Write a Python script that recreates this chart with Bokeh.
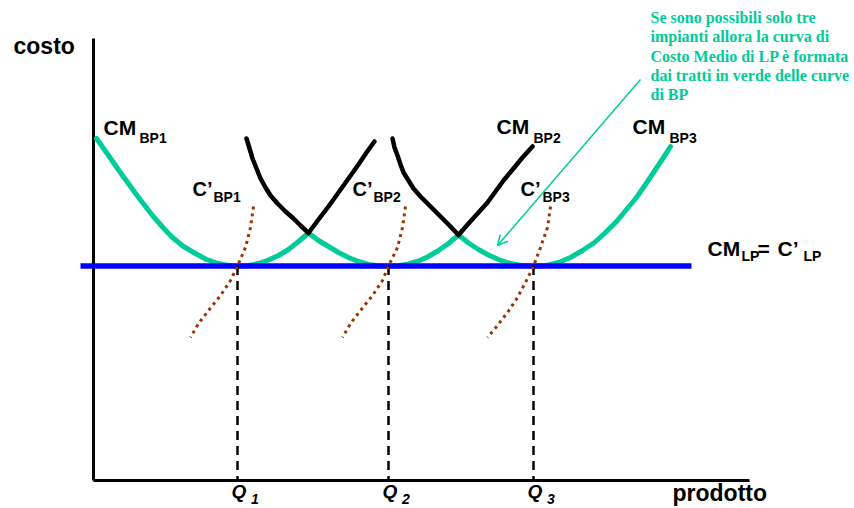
from bokeh.plotting import figure
from bokeh.models import Range1d, Label, Arrow, OpenHead
from bokeh.embed import file_html
from bokeh.resources import INLINE

# ---------------- data (x = prodotto, y = costo) ----------------
Q_VALUES = [14.4, 29.5, 44.0]
Q_SUBS = ["1", "2", "3"]
LP_COST = 21.45
LP_X = [-1.3, 59.8]
X_AXIS_END = 65.6
Y_AXIS_TOP = 44.2

# CM BP1 (green part, then black part)
bp1_green_x = [0.3, 1.5, 2.9, 4.4, 5.9, 6.9, 7.9, 9.0, 10.2, 11.3, 12.5, 13.5, 14.4,
               15.5, 16.5, 17.5, 18.5, 19.5, 20.5, 21.5]
bp1_green_y = [34.2, 32.5, 30.5, 28.45, 26.5, 25.35, 24.3, 23.4, 22.7, 22.1, 21.7, 21.5, 21.45,
               21.5, 21.7, 22.05, 22.5, 23.1, 23.9, 24.75]
bp1_black_x = [21.5, 22.5, 23.5, 24.5, 25.5, 26.5, 27.3, 28.1]
bp1_black_y = [24.75, 26.1, 27.4, 28.8, 30.2, 31.6, 32.8, 33.9]

# CM BP2 (black left, green middle, black right)
bp2_black_l_x = [15.3, 15.6, 15.9, 16.3, 16.7, 17.2, 17.7, 18.4, 19.2, 20.0, 20.7, 21.5]
bp2_black_l_y = [34.2, 33.2, 32.2, 31.2, 30.2, 29.3, 28.5, 27.7, 26.9, 26.2, 25.5, 24.75]
bp2_green_x = [21.5, 22.5, 23.5, 24.5, 25.5, 26.5, 27.5, 28.5, 29.5, 30.5, 31.5, 32.5, 33.5,
               34.5, 35.5, 36.5]
bp2_green_y = [24.75, 24.0, 23.4, 22.8, 22.3, 21.9, 21.6, 21.47, 21.45, 21.47, 21.65, 21.95, 22.4,
               23.0, 23.7, 24.55]
bp2_black_r_x = [36.5, 37.5, 38.5, 39.4, 40.2, 41.0, 42.0, 42.9, 43.9]
bp2_black_r_y = [24.55, 25.7, 26.8, 27.8, 28.9, 30.0, 31.2, 32.3, 33.4]

# CM BP3 (black left, green rest)
bp3_black_x = [29.9, 30.1, 30.4, 30.7, 31.0, 31.5, 32.0, 32.7, 33.4, 34.1, 34.8, 35.6, 36.5]
bp3_black_y = [34.2, 33.3, 32.5, 31.6, 30.8, 30.0, 29.2, 28.4, 27.7, 27.0, 26.3, 25.5, 24.55]
bp3_green_x = [36.5, 37.5, 38.5, 39.5, 40.5, 41.5, 42.7, 44.0, 45.3, 46.5, 47.7, 48.9, 50.1,
               51.2, 52.3, 53.3, 54.3, 55.2, 56.2, 57.0, 57.7]
bp3_green_y = [24.55, 23.75, 23.1, 22.55, 22.1, 21.75, 21.5, 21.45, 21.5, 21.8, 22.3, 23.0, 23.8,
               24.8, 25.9, 27.1, 28.3, 29.6, 31.1, 32.3, 33.4]

# marginal costs C'
mc1_x = [16.0, 15.7, 15.2, 14.4, 13.7, 12.7, 11.5, 10.5, 9.7]
mc1_y = [27.4, 25.3, 23.3, 21.45, 20.0, 18.5, 17.0, 15.7, 14.3]
mc2_x = [31.2, 30.9, 30.4, 29.5, 28.9, 27.9, 26.7, 25.7, 24.9]
mc2_y = [27.4, 25.3, 23.3, 21.45, 20.0, 18.5, 17.0, 15.7, 14.3]
mc3_x = [45.7, 45.4, 44.7, 44.0, 43.4, 42.4, 41.4, 40.4, 39.4]
mc3_y = [27.4, 25.3, 23.3, 21.45, 20.2, 18.3, 16.8, 15.5, 14.3]

NOTE_LINES = [
    "Se sono possibili solo tre",
    "impianti allora la curva di",
    "Costo Medio di LP è formata",
    "dai tratti in verde delle curve",
    "di BP",
]

# ---------------- styles ----------------
GREEN = "#00CC99"
BROWN = "#993300"
BLUE = "#0000FF"
SANS = "Liberation Sans"
SERIF = "Liberation Serif"

p = figure(width=854, height=508,
           x_range=Range1d(-9.3, 76.1), y_range=Range1d(-2.8, 48.0),
           output_backend="svg", toolbar_location=None,
           x_axis_location=None, y_axis_location=None,
           min_border=0, outline_line_color=None,
           background_fill_color="white", border_fill_color="white")
p.grid.visible = False

# axes
p.line([0, 0], [0, Y_AXIS_TOP], line_color="black", line_width=3)
p.line([0, X_AXIS_END], [0, 0], line_color="black", line_width=3)

# green envelope parts
for xs, ys in [(bp1_green_x, bp1_green_y), (bp2_green_x, bp2_green_y), (bp3_green_x, bp3_green_y)]:
    p.line(xs, ys, line_color=GREEN, line_width=5, line_join="round", line_cap="round")

# black parts
for xs, ys in [(bp1_black_x, bp1_black_y), (bp2_black_l_x, bp2_black_l_y),
               (bp2_black_r_x, bp2_black_r_y), (bp3_black_x, bp3_black_y)]:
    p.line(xs, ys, line_color="black", line_width=4.5, line_join="round", line_cap="round")

# long-run cost line
p.line(LP_X, [LP_COST, LP_COST], line_color=BLUE, line_width=5.5)

# dashed verticals at Q
for q in Q_VALUES:
    p.line([q, q], [LP_COST, 0], line_color="black", line_width=2.5, line_dash="9 6")

# marginal costs (dotted)
for xs, ys in [(mc1_x, mc1_y), (mc2_x, mc2_y), (mc3_x, mc3_y)]:
    p.line(xs, ys, line_color=BROWN, line_width=3, line_dash="3 4")


def lab(x, y, text, size, style="bold", font=SANS, color="black"):
    # baseline correction for the renderer (about 0.42 em upward)
    px = float(size.replace("px", ""))
    p.add_layout(Label(x=x, y=y + 0.042 * px, text=text, text_font=font,
                       text_font_size=size, text_font_style=style, text_color=color,
                       text_align="left", text_baseline="alphabetic"))


# axis titles
lab(-8.0, 42.5, "costo", "23px")
lab(57.9, -2.2, "prodotto", "23px")

# curve labels
for (x, y, sx, sy, sub) in [(1.0, 34.4, 4.6, 33.7, "BP1"),
                            (40.3, 34.5, 44.0, 33.7, "BP2"),
                            (53.9, 34.5, 57.6, 33.7, "BP3")]:
    lab(x, y, "CM", "21px")
    lab(sx, sy, sub, "14px")

for (x, sx, sub) in [(9.9, 12.0, "BP1"), (25.9, 28.0, "BP2"), (42.7, 44.9, "BP3")]:
    lab(x, 28.3, "C\u2019", "20px")
    lab(sx, 27.8, sub, "14px")

lab(61.4, 22.3, "CM", "21px")
lab(64.8, 21.9, "LP", "14px")
lab(66.4, 22.3, "=", "21px")
lab(68.4, 22.3, "C\u2019", "21px")
lab(71.0, 21.9, "LP", "14px")

# Q labels
for q, s in zip(Q_VALUES, Q_SUBS):
    lab(q - 0.6, -1.9, "Q", "19px", style="bold italic")
    lab(q + 1.35, -2.45, s, "14px", style="bold italic")

# note text
for i, line in enumerate(NOTE_LINES):
    lab(55.7, 45.6 - i * 1.92, line, "16px", font=SERIF, color=GREEN)

# arrow
p.add_layout(Arrow(end=OpenHead(size=10, line_color=GREEN, line_width=1.5),
                   x_start=54.7, y_start=40.1, x_end=40.4, y_end=23.5,
                   line_color=GREEN, line_width=1.5))

open("out.html", "w").write(file_html(p, INLINE))
